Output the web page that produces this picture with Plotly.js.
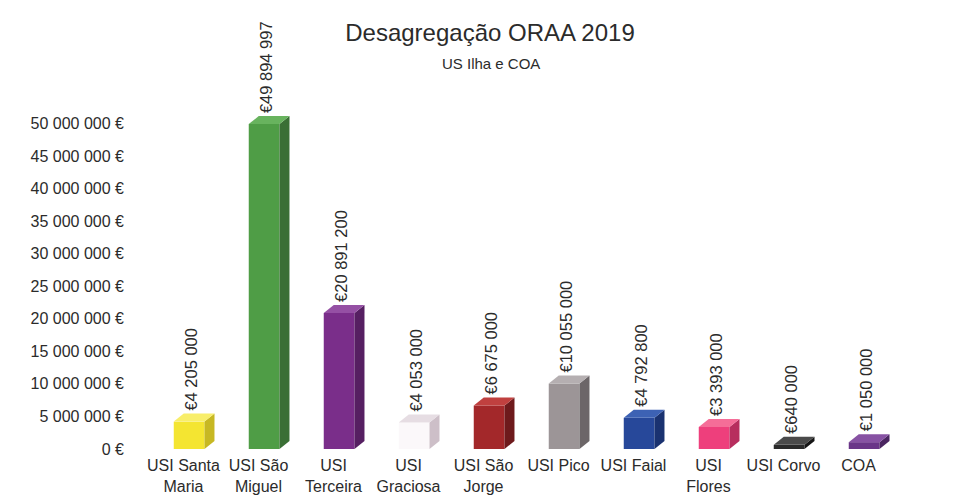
<!DOCTYPE html>
<html>
<head>
<meta charset="utf-8">
<script src="https://cdn.plot.ly/plotly-3.0.1.min.js"></script>
<style>html,body{margin:0;padding:0;background:#fff;}#chart{width:959px;height:504px;}</style>
</head>
<body>
<div id="chart"></div>
<script>
// ---- data ----
const categories = ["USI Santa<br>Maria", "USI São<br>Miguel", "USI<br>Terceira", "USI<br>Graciosa", "USI São<br>Jorge", "USI Pico", "USI Faial", "USI<br>Flores", "USI Corvo", "COA"];
const values = [4205000, 49894997, 20891200, 4053000, 6675000, 10055000, 4792800, 3393000, 640000, 1050000];
const valueLabels = ["€4 205 000", "€49 894 997", "€20 891 200", "€4 053 000", "€6 675 000", "€10 055 000", "€4 792 800", "€3 393 000", "€640 000", "€1 050 000"];
const yTickVals = [0, 5000000, 10000000, 15000000, 20000000, 25000000, 30000000, 35000000, 40000000, 45000000, 50000000];
const yTickText = ["0 €", "5 000 000 €", "10 000 000 €", "15 000 000 €", "20 000 000 €", "25 000 000 €", "30 000 000 €", "35 000 000 €", "40 000 000 €", "45 000 000 €", "50 000 000 €"];
const titleText = "Desagregação ORAA 2019";
const subtitleText = "US Ilha e COA";

// ---- style ----
const frontColors = ["#f4e531", "#4f9d46", "#7a2e8a", "#fbf8fa", "#a3282a", "#9c9597", "#27489a", "#ee3f7c", "#2a2a2a", "#6a3688"];
const topColors   = ["#f8ee6a", "#68b35e", "#9550a4", "#e6dde3", "#c0403f", "#b5afb1", "#3d62b4", "#f56d98", "#4a4a4a", "#8752a3"];
const sideColors  = ["#c7b823", "#3a6f35", "#561f62", "#cdbfc8", "#6e1a1c", "#6c6668", "#1a3270", "#b72e5e", "#151515", "#4a2560"];
const FONT = "'Liberation Sans', Arial, sans-serif";
const barOffset = -0.13;   // front face left edge relative to category centre
const barWidth = 0.41;     // front face width (category units)
const dx = 0.133;          // 3D depth, horizontal (category units)
const depth = 1230000;     // 3D depth, vertical (value units)

const idx = categories.map((_, i) => i);
const traces = [];

// front faces
traces.push({
  type: 'bar', x: idx, y: values, offset: barOffset, width: barWidth,
  marker: { color: frontColors, line: { width: 0 } }, showlegend: false, hoverinfo: 'skip'
});

// side and top faces, built from the data values
idx.forEach(i => {
  const v = values[i];
  const xl = i + barOffset, xr = i + barOffset + barWidth;
  traces.push({
    type: 'scatter', mode: 'lines', x: [xr, xr + dx, xr + dx, xr, xr], y: [0, depth, v + depth, v, 0],
    fill: 'toself', fillcolor: sideColors[i], line: { width: 0, color: sideColors[i] },
    showlegend: false, hoverinfo: 'skip'
  });
  traces.push({
    type: 'scatter', mode: 'lines', x: [xl, xl + dx, xr + dx, xr, xl], y: [v, v + depth, v + depth, v, v],
    fill: 'toself', fillcolor: topColors[i], line: { width: 0, color: topColors[i] },
    showlegend: false, hoverinfo: 'skip'
  });
});

// value labels (transparent bar carrying the text above the top face)
traces.push({
  type: 'bar', x: idx, y: values, base: idx.map(() => depth), offset: barOffset + 0.02, width: barWidth,
  marker: { color: 'rgba(0,0,0,0)' }, text: valueLabels, textposition: 'outside',
  textangle: -90, constraintext: 'none', cliponaxis: false,
  textfont: { family: FONT, size: 16.5, color: '#2b2b2b' }, hoverinfo: 'skip', showlegend: false
});

const layout = {
  width: 959, height: 504,
  margin: { l: 146, r: 63, t: 100, b: 55 },
  paper_bgcolor: '#ffffff', plot_bgcolor: '#ffffff',
  barmode: 'overlay',
  showlegend: false,
  font: { family: FONT, color: '#2b2b2b', size: 16 },
  title: {
    text: titleText, x: 490 / 959, xref: 'container', xanchor: 'center',
    yref: 'container', y: 1 - 33 / 504, yanchor: 'middle',
    font: { family: FONT, size: 24, color: '#2b2b2b' }
  },
  annotations: [{
    text: subtitleText, xref: 'paper', yref: 'paper',
    x: (491 - 146) / (959 - 146 - 63), y: 1 + (100 - 64) / 349,
    xanchor: 'center', yanchor: 'middle', showarrow: false,
    font: { family: FONT, size: 15, color: '#2b2b2b' }
  }],
  xaxis: {
    type: 'linear', range: [-0.5, 9.5], tickvals: idx, ticktext: categories,
    showgrid: false, zeroline: false, showline: false, ticks: '',
    ticklabelstandoff: 5, tickangle: 0,
    tickfont: { family: FONT, size: 16, color: '#2b2b2b' }
  },
  yaxis: {
    range: [0, 53600000], tickvals: yTickVals, ticktext: yTickText,
    showgrid: false, zeroline: false, showline: false, ticks: '',
    ticklabelstandoff: 21,
    tickfont: { family: FONT, size: 16, color: '#2b2b2b' }
  }
};

Plotly.newPlot('chart', traces, layout, { displayModeBar: false, staticPlot: true });
</script>
</body>
</html>
